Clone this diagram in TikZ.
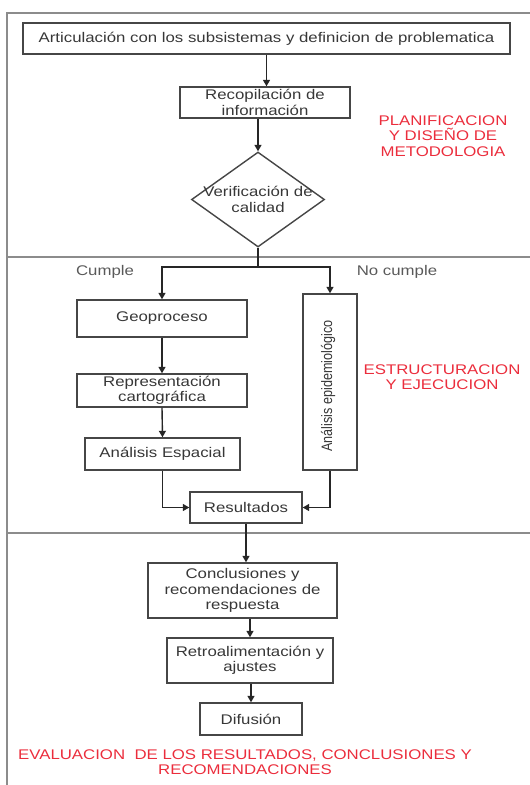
\documentclass[tikz,border=0pt]{standalone}
\usepackage{fontspec}
\setmainfont{Liberation Sans}[FakeStretch=1.2]
\newfontfamily\plainfont{Liberation Sans}
\usetikzlibrary{arrows.meta,shapes.geometric}
\definecolor{redtxt}{RGB}{235,45,60}
\definecolor{txt}{RGB}{55,55,55}
\definecolor{framecol}{RGB}{140,140,140}
\definecolor{boxcol}{RGB}{70,70,70}
\tikzset{
  x=1pt, y=-1pt,
  every node/.style={font=\fontsize{14}{15.5}\selectfont, text=txt},
  box/.style={draw=boxcol, line width=1.4pt, rectangle, inner sep=0pt, align=center},
  dia/.style={draw=boxcol, line width=1.4pt, diamond, inner sep=0pt, minimum width=133pt, minimum height=95pt},
  arr/.style={draw=black!85, line width=1.4pt, -{Triangle[width=7pt,length=6.5pt]}},
  conn/.style={draw=black!85, line width=1.4pt},
  framel/.style={draw=framecol, line width=1.8pt},
  redlbl/.style={text=redtxt, align=center},
  cond/.style={text=black!65}
}
\begin{document}
\begin{tikzpicture}
\useasboundingbox (0,0) rectangle (530,785);
% frame and separators
\draw[framel] (530,13) -- (7,13) -- (7,785);
\draw[framel] (7,257) -- (530,257);
\draw[framel] (7,533) -- (530,533);

% section 1
\node[box, minimum width=487pt, minimum height=31pt] (top) at (266.5,38.5) {Articulación con los subsistemas y definicion de problematica};
\node[box, minimum width=170pt, minimum height=31pt] (rec) at (265,102.5) {Recopilación de\\información};
\node[dia, label={[name=vertxt, align=center, text=txt]center:Verificación de\\calidad}] (ver) at (258,199.5) {};
\node[redlbl] (plan) at (443,136) {PLANIFICACION\\Y DISEÑO DE\\METODOLOGIA};

% section 2
\coordinate (split) at (258,267);
\node[cond] (cumple) at (105,272) {Cumple};
\node[cond] (nocumple) at (397,272) {No cumple};
\node[box, minimum width=170pt, minimum height=37pt] (geo) at (162,318.5) {Geoproceso};
\node[box, minimum width=170pt, minimum height=33pt] (rep) at (162,390.5) {Representación\\cartográfica};
\node[box, minimum width=155pt, minimum height=32pt] (esp) at (162.5,454) {Análisis Espacial};
\node[box, minimum width=54pt, minimum height=176pt] (epi) at (330,382) {};
\node[rotate=90, inner sep=0pt] (epitxt) at (328,386) {\scalebox{1}[1.2]{\plainfont\fontsize{12.6}{14}\selectfont Análisis epidemiológico}};
\node[box, minimum width=112pt, minimum height=31pt] (res) at (246,507.5) {Resultados};
\node[redlbl] (estr) at (442,377) {ESTRUCTURACION\\Y EJECUCION};

% section 3
\node[box, minimum width=189pt, minimum height=55pt] (concl) at (242.5,590.5) {Conclusiones y\\recomendaciones de\\respuesta};
\node[box, minimum width=166pt, minimum height=45pt] (retro) at (250,660.5) {Retroalimentación y\\ajustes};
\node[box, minimum width=102pt, minimum height=32pt] (dif) at (251,719) {Difusión};
\node[redlbl, font=\fontsize{14}{15}\selectfont] (eval) at (245,762.5) {EVALUACION\ \ DE LOS RESULTADOS, CONCLUSIONES Y\\RECOMENDACIONES};

% connectors
\draw[arr] (top.south) -- (top.south |- rec.north);
\draw[arr] (rec.south -| ver.north) -- (ver.north);
\draw[conn] (ver.south) -- (split);
\draw[arr] (split) -| (geo.north);
\draw[arr] (split) -| (epi.north);
\draw[arr] (geo.south) -- (rep.north);
\draw[arr] (rep.south) -- (esp.north);
\draw[arr] (esp.south) |- (res.west);
\draw[arr] (epi.south) |- (res.east);
\draw[arr] (res.south) -- (res.south |- concl.north);
\draw[arr] (retro.north |- concl.south) -- (retro.north);
\draw[arr] (dif.north |- retro.south) -- (dif.north);
\end{tikzpicture}
\end{document}
